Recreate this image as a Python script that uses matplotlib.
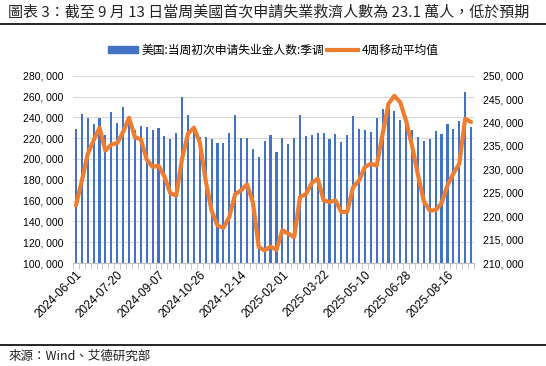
import numpy as np
import pandas as pd
import matplotlib
matplotlib.use('Agg')
import matplotlib.pyplot as plt
from matplotlib.lines import Line2D
from matplotlib.patches import Patch
from matplotlib.ticker import FuncFormatter, FixedLocator

plt.rcParams['font.family'] = ['Liberation Sans', 'Noto Sans CJK SC']

# weekly data, 2024-06-01 .. 2025-09-13
weeks = pd.date_range('2024-06-01', periods=68, freq='7D')

claims = [229, 243, 239, 234, 239, 223, 245, 235, 250, 234,
          228, 232, 231, 228, 230, 222, 219, 225, 260, 242,
          228, 221, 221, 219, 215, 215, 225, 242, 220, 220,
          210, 202, 217, 223, 207, 220, 214, 220, 242, 222,
          223, 225, 225, 219, 224, 216, 223, 241, 229, 228,
          226, 239, 248, 249, 246, 237, 232, 228, 221, 217,
          219, 227, 224, 234, 229, 236, 264, 231]

avg4 = [222.3, 227.6, 233.3, 236.2, 238.9, 234.0, 235.3, 235.6, 238.0, 241.0,
        236.9, 236.4, 232.1, 230.5, 230.8, 228.5, 224.9, 224.4, 232.3, 237.6,
        238.9, 235.8, 227.6, 221.2, 218.0, 217.5, 219.8, 224.7, 225.5, 226.8,
        223.0, 213.4, 212.7, 213.5, 212.8, 217.0, 216.3, 215.5, 224.1, 224.7,
        227.1, 228.0, 223.4, 223.0, 223.4, 220.9, 220.9, 226.2, 227.6, 230.5,
        231.2, 230.8, 237.5, 244.0, 245.7, 244.3, 240.3, 235.0, 228.8, 223.2,
        221.2, 221.3, 222.8, 226.6, 229.1, 231.2, 240.8, 240.1]

claims = np.array(claims) * 1000
avg4 = np.array(avg4) * 1000
labels = [d.strftime('%Y-%m-%d') for d in weeks]

bar_color = '#4472C4'
line_color = '#ED7D31'

fig = plt.figure(figsize=(5.46, 3.66), dpi=100)
ax = fig.add_axes([0.1337, 0.2814, 0.7344, 0.5118])
ax2 = ax.twinx()

x = np.arange(len(weeks))
ax.bar(x, claims, width=0.36, color=bar_color, zorder=2)
ax2.plot(x, avg4, color=line_color, lw=3, solid_joinstyle='round', solid_capstyle='round')

ax.set_xlim(-0.5, len(weeks) - 0.5)
ax.set_ylim(100000, 280000)
ax.set_yticks(np.arange(100000, 280001, 20000))
ax2.set_ylim(210000, 250000)
ax2.set_yticks(np.arange(210000, 250001, 5000))

fmt = FuncFormatter(lambda v, p: f'{int(v):,}'.replace(',', ', '))
ax.yaxis.set_major_formatter(fmt)
ax2.yaxis.set_major_formatter(fmt)

ax.grid(axis='y', color='#d9d9d9', lw=0.8, zorder=0)
ax.set_axisbelow(True)

for a in (ax, ax2):
    for s in ('top', 'left', 'right'):
        a.spines[s].set_visible(False)
    a.spines['bottom'].set_color('#bfbfbf')
ax2.spines['bottom'].set_visible(False)

ax.tick_params(axis='y', length=0, labelsize=7.5, pad=7)
ax2.tick_params(axis='y', length=0, labelsize=7.5, pad=6.5)

ax.xaxis.set_major_locator(FixedLocator(x[::7]))
ax.set_xticklabels(labels[::7], rotation=45, ha='right', rotation_mode='anchor', fontsize=8.5)
ax.xaxis.set_minor_locator(FixedLocator(np.arange(-0.5, len(weeks), 1.0)))
ax.tick_params(axis='x', which='major', length=0, pad=4)
ax.tick_params(axis='x', which='minor', length=4, color='#bfbfbf')

handles = [Patch(color=bar_color), Line2D([], [], color=line_color, lw=3)]
fig.legend(handles, ['美国:当周初次申请失业金人数:季调', '4周移动平均值'],
           loc='center', bbox_to_anchor=(0.5, 0.863), ncol=2, frameon=False,
           handlelength=2.6, handleheight=0.45, handletextpad=0.3, columnspacing=0.2,
           prop={'family': ['Noto Sans CJK SC', 'DejaVu Sans'], 'size': 8.5})

fig.text(0.015, 0.967, '圖表 3：截至 9 月 13 日當周美國首次申請失業救濟人數為 23.1 萬人，低於預期',
         ha='left', va='center', fontsize=10.8, color='#222222',
         family=['Noto Sans CJK TC', 'DejaVu Sans'])
fig.add_artist(Line2D([0, 1], [1 - 24 / 366, 1 - 24 / 366], transform=fig.transFigure, color='black', lw=1.2))
fig.add_artist(Line2D([0, 1], [1 - 345 / 366, 1 - 345 / 366], transform=fig.transFigure, color='black', lw=1.2))
fig.text(0.015, 1 - 356 / 366, '來源：Wind、艾德研究部', ha='left', va='center', fontsize=9,
         color='#222222', family=['Noto Sans CJK TC', 'DejaVu Sans'])

fig.savefig('out.png', dpi=100)
